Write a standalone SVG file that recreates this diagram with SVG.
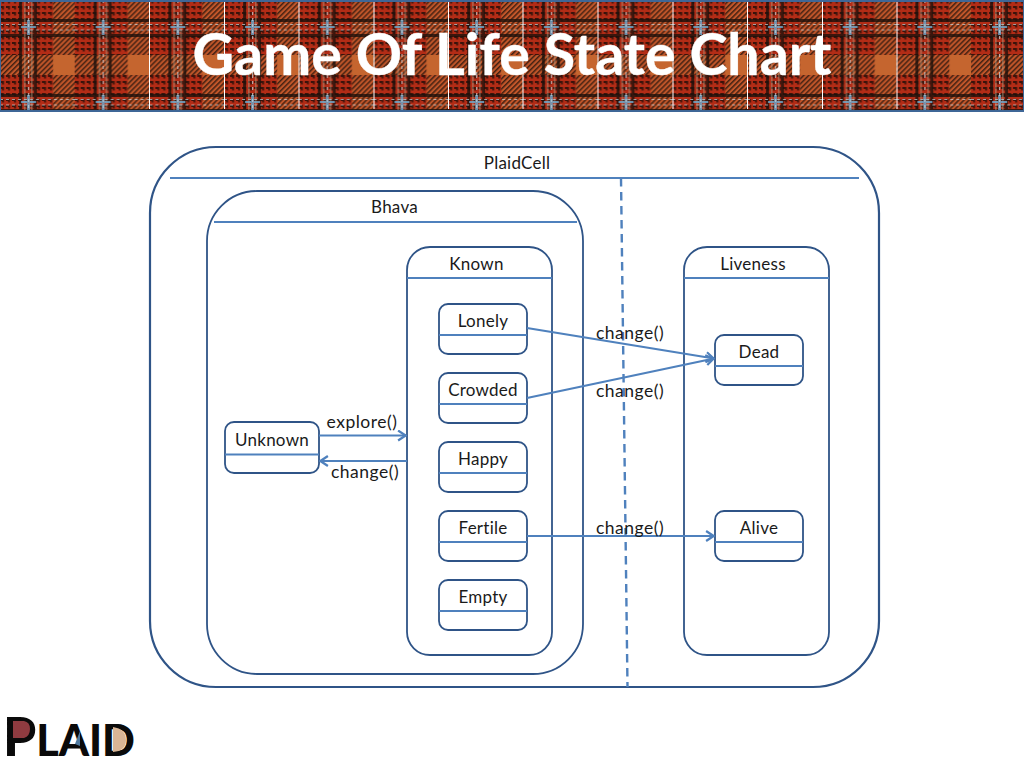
<svg xmlns="http://www.w3.org/2000/svg" width="1024" height="768" viewBox="0 0 1024 768">
<style>
text{font-family:"Lato","Liberation Sans",sans-serif;fill:#1a1a1a;font-size:17px;letter-spacing:.25px;text-anchor:middle}
.m{font-size:17.500px;letter-spacing:.5px}
.s{fill:#fff;stroke:#2f5487;stroke-width:2.2}
.d{fill:none;stroke:#2f5487;stroke-width:1.8}
.c{fill:none;stroke:#4f81bd;stroke-width:2.2}
.o{stroke:#4f81bd;stroke-width:2;fill:none}
</style>
<defs>
<pattern id="tw" width="3.600" height="3.600" patternUnits="userSpaceOnUse" patternTransform="rotate(-45)">
<rect width="3.600" height="1.500" fill="#20120c"/>
</pattern>
<pattern id="ck" width="6" height="6" patternUnits="userSpaceOnUse">
<rect x="0" y="0" width="4" height="2" fill="#1a0d08"/>
<rect x="2" y="2" width="2" height="1.500" fill="#1a0d08"/>
</pattern>
<pattern id="plaid" x="0" y="0" width="74.700" height="75" patternUnits="userSpaceOnUse">
<rect width="75" height="75" fill="#b32c16"/>
<rect x="53" width="22" height="75" fill="#c4572a"/>
<rect y="55" width="75" height="20" fill="#c4572a"/>
<rect x="53" y="55" width="22" height="20" fill="#c5652f"/>
<rect x="53" y="0" width="22" height="55" fill="url(#tw)" opacity=".8"/>
<rect x="0" y="55" width="53" height="20" fill="url(#tw)" opacity=".8"/>
<rect x="0" y="0" width="53" height="55" fill="url(#ck)" opacity=".8"/>
<g fill="#1c100b" opacity=".8">
<rect x="19" width="3" height="75"/>
<rect x="34" width="3" height="75"/>
<rect y="19" width="75" height="3"/>
<rect y="34" width="75" height="3"/>
</g>
<g fill="#b09a80" opacity=".55">
<rect x="24" width="1.500" height="75"/>
<rect x="31" width="1.500" height="75"/>
</g>
<g fill="#6fa6c8" opacity=".85">
<rect x="27" y="20" width="3" height="15"/>
<rect x="21" y="26" width="15" height="2"/>
</g>
<g stroke="#c9d2d6" stroke-width="1.200" stroke-dasharray="3 3" fill="none" opacity=".75">
<path d="M28.500 0V75M0 24.500H75M0 30H75"/>
</g>
</pattern>
<marker id="ah" viewBox="0 0 10 12" refX="9.400" refY="6" markerWidth="10" markerHeight="12" markerUnits="userSpaceOnUse" orient="auto">
<path d="M1.500 1L9 6L1.500 11" fill="none" stroke="#4f81bd" stroke-width="2.200"/>
</marker>
</defs>
<rect width="1024" height="768" fill="#fff"/>
<g id="banner">
<rect x="0" y="1" width="1024" height="110" fill="url(#plaid)" stroke="#3f6797" stroke-width="2"/>
<path stroke="#fff" stroke-width="1" d="M149.500 2V109M224.500 2V109M299 2V109M374 2V109M448.500 2V109M523 2V109M598 2V109M673 2V109M747.500 2V109M822.500 2V109M897 2V109"/>
<text x="512" y="75" style="font-size:57.300px;font-weight:700;letter-spacing:0;fill:#fff;stroke:#fff;stroke-width:.4">Game Of Life State Chart</text>
</g>
<g id="PlaidCell">
<rect class="s" x="150" y="147" width="729" height="540" rx="66"/>
<path class="o" d="M170 178H859"/>
<text x="517" y="169">PlaidCell</text>
</g>
<path id="divider" d="M621 178L627.500 687" fill="none" stroke="#4f81bd" stroke-width="2.400" stroke-dasharray="8.500 5.500"/>
<g id="Bhava">
<rect class="d" x="207" y="191" width="376" height="483" rx="50"/>
<path class="o" d="M214 222H577"/>
<text x="394.500" y="213">Bhava</text>
</g>
<g id="Known">
<rect class="d" x="407" y="247" width="145" height="408" rx="23"/>
<path class="o" d="M407 278H552"/>
<text x="476.500" y="270">Known</text>
</g>
<g id="Liveness">
<rect class="d" x="684" y="247" width="145" height="408" rx="23"/>
<path class="o" d="M684 278H829"/>
<text x="753" y="270">Liveness</text>
</g>
<g id="Unknown">
<rect class="d" x="225" y="422" width="94" height="51" rx="9"/>
<path class="o" d="M225 454.500H319"/>
<text x="272" y="446">Unknown</text>
</g>
<g id="Lonely">
<rect class="d" x="439" y="304" width="88" height="50" rx="9"/>
<path class="o" d="M439 335H527"/>
<text x="483" y="327">Lonely</text>
</g>
<g id="Crowded">
<rect class="d" x="439" y="373" width="88" height="50" rx="9"/>
<path class="o" d="M439 404H527"/>
<text x="483" y="396">Crowded</text>
</g>
<g id="Happy">
<rect class="d" x="439" y="442" width="88" height="50" rx="9"/>
<path class="o" d="M439 473H527"/>
<text x="483" y="465">Happy</text>
</g>
<g id="Fertile">
<rect class="d" x="439" y="511" width="88" height="50" rx="9"/>
<path class="o" d="M439 542H527"/>
<text x="483" y="534">Fertile</text>
</g>
<g id="Empty">
<rect class="d" x="439" y="580" width="88" height="50" rx="9"/>
<path class="o" d="M439 611H527"/>
<text x="483" y="603">Empty</text>
</g>
<g id="Dead">
<rect class="d" x="715" y="335" width="88" height="50" rx="9"/>
<path class="o" d="M715 366H803"/>
<text x="759" y="358">Dead</text>
</g>
<g id="Alive">
<rect class="d" x="715" y="511" width="88" height="50" rx="9"/>
<path class="o" d="M715 542H803"/>
<text x="759" y="534">Alive</text>
</g>
<g id="connectors">
<path class="c" marker-end="url(#ah)" d="M527 328L714 358.500"/>
<path class="c" marker-end="url(#ah)" d="M527 398L714 358.500"/>
<path class="c" marker-end="url(#ah)" d="M527 536H714"/>
<path class="c" marker-end="url(#ah)" d="M319 435.500H406"/>
<path class="c" marker-end="url(#ah)" d="M407 461H320"/>
<text class="m" x="630" y="339">change()</text>
<text class="m" x="630" y="397">change()</text>
<text class="m" x="630" y="534">change()</text>
<text class="m" x="362" y="428">explore()</text>
<text class="m" x="365" y="478">change()</text>
</g>
<g id="logo">
<text x="3" y="755.500" textLength="132" lengthAdjust="spacingAndGlyphs" style="font-size:54px;font-weight:900;letter-spacing:0;text-anchor:start;fill:#0a0a0a">P<tspan style="font-size:44px">LAID</tspan></text>
<path d="M13 721H24Q30 722 30 729Q30 736 24 738H13Z" fill="#8f3b40"/>
<path d="M113 727Q126 729 126 740Q126 751 113 752Z" fill="#d9b595"/>
<path d="M75 744L80 731V746Z" fill="#4f7aa0"/>
</g>
</svg>
